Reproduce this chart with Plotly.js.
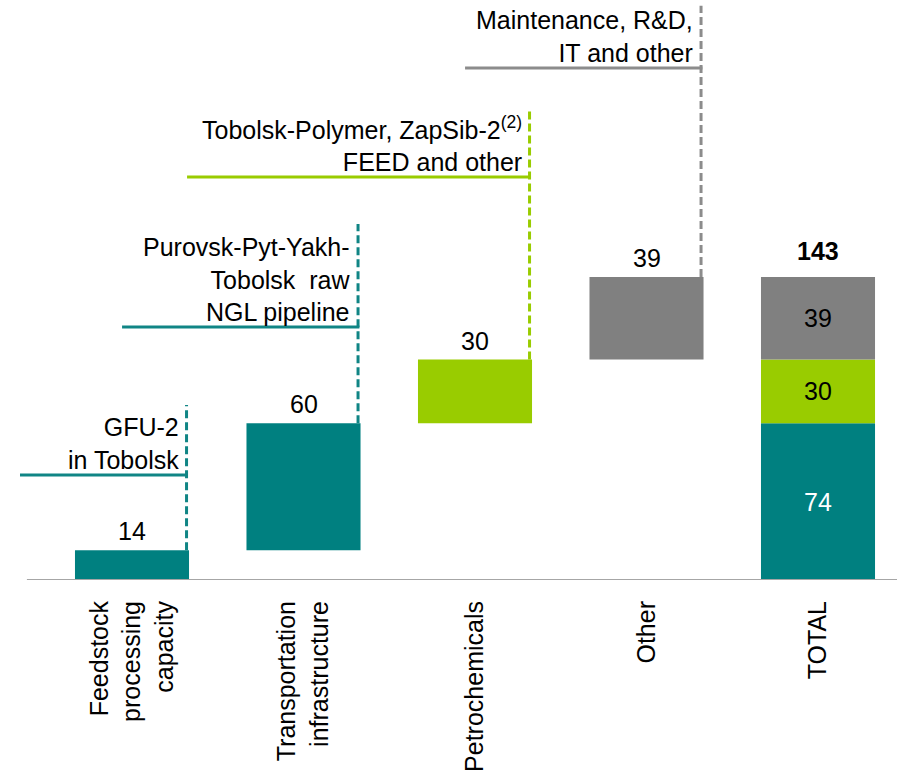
<!DOCTYPE html>
<html>
<head>
<meta charset="utf-8">
<script src="https://cdn.plot.ly/plotly-3.0.1.min.js"></script>
<style>html,body{margin:0;padding:0;background:#fff;}#chart{width:897px;height:779px;}</style>
</head>
<body>
<div id="chart"></div>
<script>
// ---- data ----
const categories = ["Feedstock<br>processing<br>capacity", "Transportation<br>infrastructure", "Petrochemicals", "Other", "TOTAL"];
const stepValues = [14, 60, 30, 39];
const stepGroups = ["infra", "infra", "petro", "other"];
const totalSegmentLabels = ["infra", "petro", "other"];
const totalSegmentValues = [74, 30, 39];
const totalValue = 143;
const calloutTexts = [
  "GFU-2<br>in Tobolsk",
  "Purovsk-Pyt-Yakh-<br>Tobolsk  raw<br>NGL pipeline",
  "Tobolsk-Polymer, ZapSib-2<sup>(2)</sup><br>FEED and other",
  "Maintenance, R&amp;D,<br>IT and other"
];

// ---- styles / layout ----
const colors = {infra: "#008080", petro: "#99CC00", other: "#808080"};
const lineColors = {infra: "#108585", petro: "#99CC00", other: "#8C8C8C"};
const FONT = "Liberation Sans, Arial, sans-serif";
const FS = 25;
const barWidth = 0.665;
// callout geometry (axis units)
const calloutLineY = [49.5, 119.4, 190.2, 241.6];
const calloutTopY = [82.6, 168, 223, 271];
const calloutLeftX = [-0.653, -0.058, 0.321, 1.942];
const dashOffset = 0.318;

// bases of the waterfall steps
const stepBases = [];
let acc = 0;
stepValues.forEach(v => { stepBases.push(acc); acc += v; });
const stepTops = stepValues.map((v, i) => stepBases[i] + v);

const totalBases = [];
let acc2 = 0;
totalSegmentValues.forEach(v => { totalBases.push(acc2); acc2 += v; });

const traces = [];
traces.push({
  type: "bar",
  x: categories.slice(0, 4),
  y: stepValues,
  base: stepBases,
  width: barWidth,
  marker: {color: stepGroups.map(g => colors[g]), line: {width: 0}},
  hoverinfo: "none",
  showlegend: false
});
totalSegmentValues.forEach((v, i) => {
  traces.push({
    type: "bar",
    x: [categories[4]],
    y: [v],
    base: [totalBases[i]],
    width: barWidth,
    marker: {color: colors[totalSegmentLabels[i]], line: {width: 0}},
    text: [String(v)],
    textposition: "inside",
    insidetextanchor: "middle",
    textangle: 0,
    textfont: {family: FONT, size: FS, color: totalSegmentLabels[i] === "infra" ? "#ffffff" : "#000000"},
    hoverinfo: "none",
    showlegend: false
  });
});

const shapes = [];
const annotations = [];
stepValues.forEach((v, i) => {
  const g = stepGroups[i];
  shapes.push({type: "line", xref: "x", yref: "y", x0: i + dashOffset, x1: i + dashOffset,
    y0: stepTops[i], y1: calloutTopY[i], line: {color: lineColors[g], width: 3, dash: "8px,4px"}});
  shapes.push({type: "line", xref: "x", yref: "y", x0: calloutLeftX[i], x1: i + dashOffset + 0.008,
    y0: calloutLineY[i], y1: calloutLineY[i], line: {color: lineColors[g], width: 3}});
  annotations.push({xref: "x", yref: "y", x: i + dashOffset, y: calloutLineY[i], xanchor: "right", yanchor: "bottom",
    xshift: -6, yshift: -1, align: "right", showarrow: false, text: calloutTexts[i],
    font: {family: FONT, size: FS, color: "#000"}});
  annotations.push({xref: "x", yref: "y", x: categories[i], y: stepTops[i], xanchor: "center", yanchor: "bottom",
    yshift: 3, showarrow: false, text: String(v), font: {family: FONT, size: FS, color: "#000"}});
});
annotations.push({xref: "x", yref: "y", x: categories[4], y: totalValue, xanchor: "center", yanchor: "bottom",
  yshift: 10, showarrow: false, text: "<b>" + totalValue + "</b>", font: {family: FONT, size: FS, color: "#000"}});
shapes.push({type: "line", xref: "paper", yref: "y", x0: 0.03, x1: 1, y0: 0, y1: 0, line: {color: "#A6A6A6", width: 2}});

const layout = {
  width: 897, height: 779,
  margin: {l: 0, r: 0, t: 0, b: 199},
  paper_bgcolor: "#fff", plot_bgcolor: "#fff",
  barmode: "overlay",
  showlegend: false,
  xaxis: {type: "category", range: [-0.7697, 4.4606], showgrid: false, zeroline: false, showline: false,
    tickangle: -90, ticks: "outside", ticklen: 10, tickcolor: "rgba(0,0,0,0)",
    tickfont: {family: FONT, size: FS, color: "#000"}, fixedrange: true},
  yaxis: {range: [0, 273.7], visible: false, showgrid: false, zeroline: false, fixedrange: true},
  shapes: shapes,
  annotations: annotations,
  font: {family: FONT}
};

Plotly.newPlot("chart", traces, layout, {displayModeBar: false, staticPlot: true});
</script>
</body>
</html>
